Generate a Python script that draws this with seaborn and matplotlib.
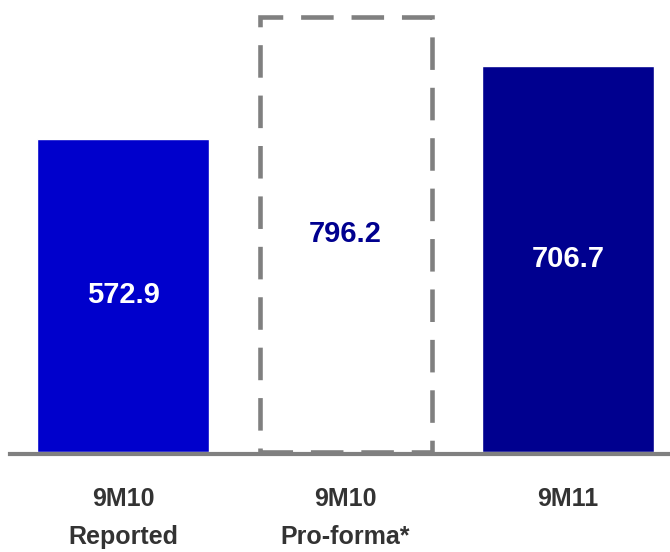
import matplotlib
matplotlib.use("Agg")
import matplotlib.pyplot as plt
import seaborn as sns
import pandas as pd

categories = ["9M10\nReported", "9M10\nPro-forma*", "9M11"]
values = [572.9, 796.2, 706.7]
bar_colors = ["#0000CC", "#FFFFFF", "#00008F"]
label_colors = ["white", "#00008F", "white"]

sns.set_theme(style="white")
plt.rcParams["font.family"] = ["Liberation Sans", "DejaVu Sans"]

df = pd.DataFrame({"period": categories, "value": values})

fig = plt.figure(figsize=(6.7, 5.52), dpi=100)
ax = fig.add_axes([10 / 670, 100 / 552, 660 / 670, 452 / 552])

sns.barplot(data=df, x="period", y="value", hue="period",
            palette=dict(zip(categories, bar_colors)), width=0.773,
            legend=False, saturation=1, ax=ax)

# pro-forma bar: dashed outline only
pro = ax.patches[1]
pro.set_facecolor("none")
pro.set_edgecolor("#808080")
pro.set_linewidth(3.3)
pro.set_linestyle((0, (7.1, 3.9)))
pro.set_zorder(3)

for patch, val, col in zip(ax.patches, values, label_colors):
    ax.text(patch.get_x() + patch.get_width() / 2, val / 2, f"{val:.1f}",
            ha="center", va="center", color=col, fontsize=21,
            fontweight="bold")

ax.set_xlim(-0.508, 2.458)
ax.set_ylim(0, 827)
ax.set_xlabel("")
ax.set_ylabel("")
ax.set_yticks([])
ax.set_xticks(range(len(categories)))
ax.set_xticklabels([])
ax.tick_params(axis="x", length=0)

# category labels under each bar
for i, name in enumerate(categories):
    ax.annotate(name, xy=(i, 0), xycoords=("data", "axes fraction"),
                xytext=(0, -25), textcoords="offset points",
                ha="center", va="top", fontsize=18, fontweight="bold",
                color="#333333", linespacing=1.75)

for side in ["top", "left", "right"]:
    ax.spines[side].set_visible(False)
ax.spines["bottom"].set_color("#808080")
ax.spines["bottom"].set_linewidth(3)
ax.spines["bottom"].set_position(("outward", 1.5))

fig.savefig("out.png", dpi=100, facecolor="white")
